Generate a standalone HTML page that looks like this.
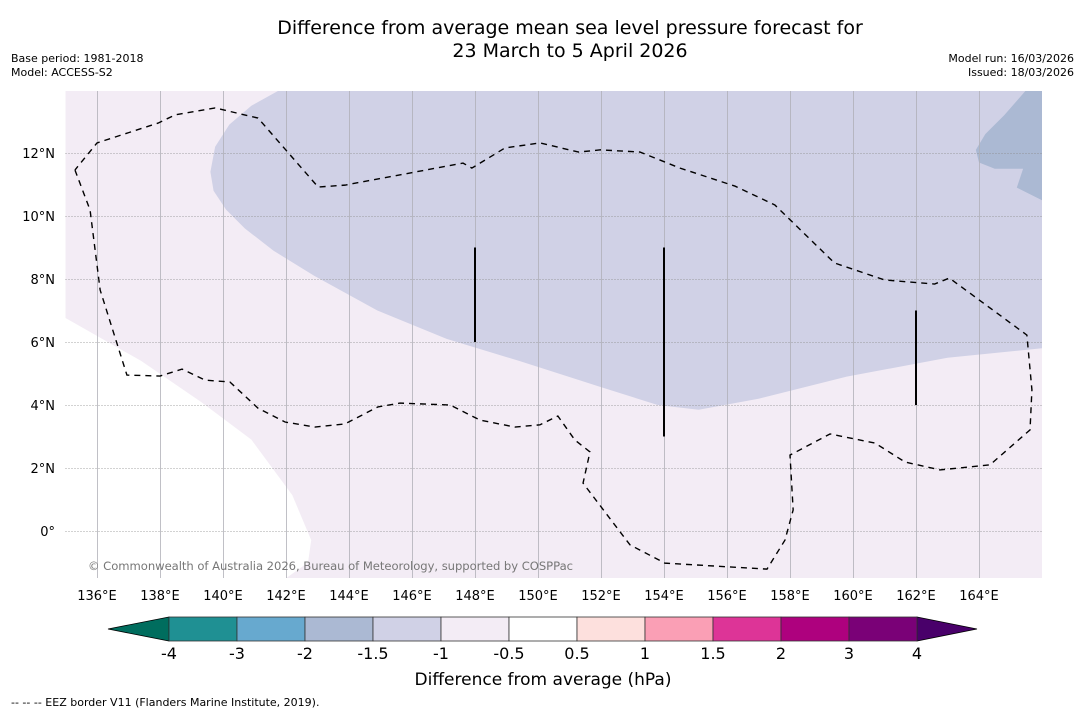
<!DOCTYPE html>
<html><head><meta charset="utf-8"><style>
body{margin:0;background:#fff;width:1085px;height:713px;overflow:hidden;font-family:"DejaVu Sans","Liberation Sans",sans-serif}
</style></head><body>
<svg id="c" width="1085" height="713" viewBox="0 0 1085 713" xmlns="http://www.w3.org/2000/svg" font-family="DejaVu Sans, Liberation Sans, sans-serif">
<text x="570" y="34" font-size="19" text-anchor="middle">Difference from average mean sea level pressure forecast for</text>
<text x="570" y="57" font-size="19" text-anchor="middle">23 March to 5 April 2026</text>
<text x="11" y="62" font-size="11">Base period: 1981-2018</text>
<text x="11" y="76" font-size="11">Model: ACCESS-S2</text>
<text x="1074" y="62" font-size="11" text-anchor="end">Model run: 16/03/2026</text>
<text x="1074" y="76" font-size="11" text-anchor="end">Issued: 18/03/2026</text>
<g id="map"></g>
<g id="cbar"></g>
<text x="543" y="685" font-size="17" text-anchor="middle">Difference from average (hPa)</text>
<text x="11" y="706" font-size="11">--  --  -- EEZ border V11 (Flanders Marine Institute, 2019).</text>
</svg>
<script>
const lonTicks=[136,138,140,142,144,146,148,150,152,154,156,158,160,162,164];
const latTicks=[0,2,4,6,8,10,12];
const eezLon=[135.30,135.78,136.10,136.95,138.00,138.70,139.43,140.22,141.11,141.97,142.92,143.87,144.92,145.62,147.21,148.16,149.27,150.06,150.63,151.17,151.65,151.43,152.92,154.03,157.27,157.84,158.10,158.00,159.27,160.70,161.65,162.76,164.35,165.62,165.68,165.52,163.06,162.59,161.00,159.41,157.52,156.25,154.51,153.24,151.98,151.29,150.06,148.95,147.90,147.62,143.87,143.02,141.11,139.75,138.48,137.94,136.00,135.30];
const eezLat=[11.46,10.19,7.65,4.95,4.92,5.14,4.79,4.73,3.90,3.46,3.30,3.40,3.94,4.06,4.00,3.52,3.30,3.37,3.65,2.89,2.51,1.52,-0.44,-1.02,-1.21,-0.29,0.67,2.41,3.08,2.79,2.19,1.94,2.10,3.21,4.48,6.22,8.03,7.84,7.97,8.51,10.35,10.95,11.52,12.03,12.10,12.03,12.32,12.16,11.52,11.68,10.98,10.92,13.11,13.43,13.21,12.95,12.32,11.46];
const lowLon=[141.8,140.9,140.2,139.75,139.6,139.7,140.1,140.7,141.6,142.9,144.9,147.1,149.4,151.9,153.8,155.1,157.0,159.8,163.0,166,166];
const lowLat=[14,13.5,12.9,12.2,11.4,10.8,10.2,9.6,8.9,8.1,7.0,6.1,5.4,4.6,4.0,3.85,4.2,4.9,5.5,5.8,14];
const low2Lon=[165.5,164.8,164.2,163.9,164.0,164.5,165.4,165.2,166,166];
const low2Lat=[14,13.2,12.6,12.1,11.7,11.5,11.5,10.9,10.5,14];
const whiteLon=[135,137.4,139.3,140.9,142.2,142.8,142.7,142.0,135];
const whiteLat=[6.76,5.4,4.1,2.9,1.14,-0.29,-1.0,-1.5,-1.5];
const barLon=[148,154,162];
const barTop=[9,9,7];
const barBot=[6,3,4];
const cbVals=[-4,-3,-2,-1.5,-1,-0.5,0.5,1,1.5,2,3,4];
const cbColors=["#1f9093","#67a9cf","#abb9d3","#d0d1e6","#f3ecf5","#ffffff","#fde0dd","#fa9fb5","#dd3497","#ae017e","#7a0177"];
const NS="http://www.w3.org/2000/svg";
const X0=65.5,X1=1042,Y0=91,Y1=578;
const px=lon=>X0+(lon-135)*31.5;
const py=lat=>531-lat*31.5;
function mk(t,a,p){const e=document.createElementNS(NS,t);for(const k in a)e.setAttribute(k,a[k]);p.appendChild(e);return e;}
const map=document.getElementById('map');
const clip=mk('clipPath',{id:'mc'},map);mk('rect',{x:X0,y:Y0,width:X1-X0,height:Y1-Y0},clip);
const bg=mk('rect',{x:X0,y:Y0,width:X1-X0,height:Y1-Y0,fill:'#f3ecf5'},map);


const g=mk('g',{'clip-path':'url(#mc)'},map);
function poly(lons,lats,fill,name){const p=mk('polygon',{points:lons.map((l,i)=>px(l)+','+py(lats[i])).join(' '),fill:fill},g);

}
poly(whiteLon,whiteLat,'#ffffff','region-near-average');
poly(lowLon,lowLat,'#d0d1e6','region-minus-1-5');
poly(low2Lon,low2Lat,'#abb9d3','region-minus-2');
lonTicks.forEach(l=>{const x=Math.round(px(l))+0.5;const ln=mk('line',{x1:x,x2:x,y1:Y0,y2:Y1,stroke:'#b0b0b8',"stroke-width":0.8},g);


const t=mk('text',{x:px(l),y:600,"font-size":13,"text-anchor":"middle"},map);t.textContent=l+'°E';

});
latTicks.forEach(l=>{const y=Math.round(py(l))+0.5;const ln=mk('line',{x1:X0,x2:X1,y1:y,y2:y,stroke:'#888',"stroke-width":0.8,"stroke-dasharray":"1,2"},g);


const t=mk('text',{x:55,y:py(l)+5,"font-size":13,"text-anchor":"end"},map);t.textContent=l===0?'0°':l+'°N';

});
const eez=mk('polyline',{points:eezLon.map((l,i)=>px(l)+','+py(eezLat[i])).join(' '),fill:'none',stroke:'#000',"stroke-width":1.4,"stroke-dasharray":"6,5"},g);


barLon.forEach((l,i)=>{const b=mk('line',{x1:px(l),x2:px(l),y1:py(barTop[i]),y2:py(barBot[i]),stroke:'#000',"stroke-width":2},g);

});
const cp=mk('text',{x:88,y:570,"font-size":11.6,fill:'#777',"textLength":485},map);cp.textContent='© Commonwealth of Australia 2026, Bureau of Meteorology, supported by COSPPac';


const cb=document.getElementById('cbar');
const cx=v=>169+cbVals.indexOf(v)*68;
const CT=617,CB=641;
const lt=mk('polygon',{points:`169,${CT} 108,629 169,${CB}`,fill:'#006d5e',stroke:'#000',"stroke-width":0.8},cb);


const rt=mk('polygon',{points:`917,${CT} 977,629 917,${CB}`,fill:'#49006a',stroke:'#000',"stroke-width":0.8},cb);


cbColors.forEach((c,i)=>{const r=mk('rect',{x:cx(cbVals[i]),y:CT,width:cx(cbVals[i+1])-cx(cbVals[i]),height:CB-CT,fill:c,stroke:'#333',"stroke-width":0.8},cb);

});
cbVals.forEach(v=>{const t=mk('text',{x:cx(v),y:659,"font-size":16,"text-anchor":"middle"},cb);t.textContent=String(v);

});
</script>
</body></html>
